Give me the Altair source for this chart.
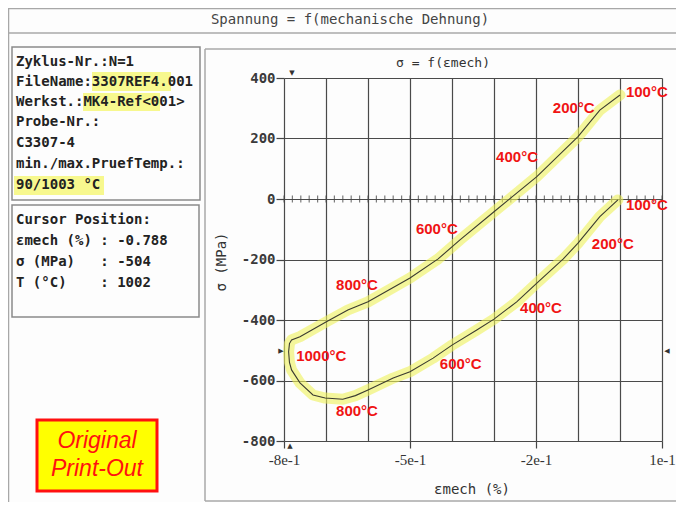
import altair as alt
import pandas as pd

# ---- hysteresis loop (mechanical strain in %, stress in MPa)
strain = [0.0, -0.048, -0.1, -0.198, -0.262, -0.3, -0.381, -0.433, -0.5, -0.6,
          -0.648, -0.698, -0.762, -0.782, -0.787, -0.789, -0.787, -0.782, -0.762,
          -0.731, -0.702, -0.66, -0.63, -0.6, -0.54, -0.5, -0.445, -0.4, -0.341,
          -0.3, -0.246, -0.198, -0.135, -0.1, -0.048, -0.005]
stress = [344, 294, 206, 74, 1, -42, -135, -198, -261, -340,
          -367, -405, -455, -466, -478, -505, -540, -565, -608,
          -648, -658, -662, -650, -631, -592, -571, -526, -483, -433,
          -397, -340, -278, -198, -146, -58, -3]

# ---- temperature annotations
temp_text = ["100°C", "200°C", "400°C", "100°C", "600°C", "200°C",
             "800°C", "400°C", "1000°C", "600°C", "800°C"]
temp_x = [0.014, -0.16, -0.295, 0.014, -0.486, -0.067,
          -0.676, -0.238, -0.771, -0.429, -0.676]
temp_y = [354, 301, 139, -20, -99, -149, -284, -360, -519, -546, -701]

# ---- axes
x_ticks = [-0.8, -0.7, -0.6, -0.5, -0.4, -0.3, -0.2, -0.1, 0.0, 0.1]
y_ticks = [-800, -600, -400, -200, 0, 200, 400]
minor_ticks = [-0.8, -0.78, -0.76, -0.74, -0.72, -0.7, -0.68, -0.66, -0.64, -0.62,
               -0.6, -0.58, -0.56, -0.54, -0.52, -0.5, -0.48, -0.46, -0.44, -0.42,
               -0.4, -0.38, -0.36, -0.34, -0.32, -0.3, -0.28, -0.26, -0.24, -0.22,
               -0.2, -0.18, -0.16, -0.14, -0.12, -0.1, -0.08, -0.06, -0.04, -0.02,
               0.0, 0.02, 0.04, 0.06, 0.08, 0.1]

# ---- side panel texts
info_lines = ["Zyklus-Nr.:N=1", "FileName:3307REF4.001", "Werkst.:MK4-Ref<001>",
              "Probe-Nr.:", "C3307-4", "min./max.PruefTemp.:", "90/1003 °C"]
cursor_lines = ["Cursor Position:", "εmech (%) : -0.788",
                "σ (MPa)   : -504", "T (°C)    : 1002"]

OX, OY = 284, 78          # page position of the plot origin
W, H = 378, 363
mono = "DejaVu Sans Mono"
NB = "\u00a0"

curve = pd.DataFrame({"strain": strain, "stress": stress,
                      "order": list(range(len(strain)))})
labels = pd.DataFrame({"strain": temp_x, "stress": temp_y, "t": temp_text})
minor = pd.DataFrame({"strain": minor_ticks})
one = pd.DataFrame({"k": [0]})

xs = alt.Scale(domain=[-0.8, 0.1], nice=False, zero=False)
ys = alt.Scale(domain=[-800, 400], nice=False, zero=False)

TEST = "round(datum.value*10+8) % 3 === 0"
x_axis = alt.Axis(values=x_ticks, title=None, grid=True, gridColor="#4a4a4a",
                  gridWidth=1.2, domain=False, tickColor="#444", tickSize=7,
                  tickWidth=1.2,
                  tickOpacity={"condition": {"test": TEST, "value": 1}, "value": 0},
                  labelExpr=TEST + " ? round(datum.value*10) + 'e-1' : ''",
                  labelFont="Liberation Serif", labelFontSize=15,
                  labelColor="#333", labelPadding=4, labelFlush=False,
                  labelOverlap=False)
y_axis = alt.Axis(values=y_ticks, title=None, grid=True, gridColor="#4a4a4a",
                  gridWidth=1.2, domain=False, tickColor="#444", tickSize=8,
                  tickWidth=1.2, labelExpr="'' + datum.value", labelFont=mono,
                  labelFontSize=14, labelFontWeight="bold", labelColor="#3a3a3a",
                  labelPadding=1, labelOverlap=False)

X = alt.X("strain:Q", scale=xs, axis=x_axis)
Y = alt.Y("stress:Q", scale=ys, axis=y_axis)


def box(x1, y1, x2, y2, **kw):
    return alt.Chart(one).mark_rect(**kw).encode(
        x=alt.value(x1 - OX), x2=alt.value(x2 - OX),
        y=alt.value(y1 - OY), y2=alt.value(y2 - OY))


def hline(x1, x2, y, color="#a8a8a8", w=1.5):
    return alt.Chart(one).mark_rule(color=color, strokeWidth=w).encode(
        x=alt.value(x1 - OX), x2=alt.value(x2 - OX), y=alt.value(y - OY))


def vline(x, y1, y2, color="#a8a8a8", w=1.5):
    return alt.Chart(one).mark_rule(color=color, strokeWidth=w).encode(
        x=alt.value(x - OX), y=alt.value(y1 - OY), y2=alt.value(y2 - OY))


def txt(x, y, s, **kw):
    opts = dict(align="left", baseline="middle", font=mono, fontSize=14,
                color="#222")
    opts.update(kw)
    return alt.Chart(one).mark_text(text=s, **opts).encode(
        x=alt.value(x - OX), y=alt.value(y - OY))


base = alt.Chart(curve).encode(x=X, y=Y, order="order:Q")
highlight = base.mark_line(color="#eef25a", opacity=0.6, strokeWidth=11,
                           strokeCap="round", strokeJoin="round")
line = base.mark_line(color="#3b3b30", strokeWidth=1.1)

ticks = alt.Chart(minor).transform_calculate(stress="0").mark_tick(
    orient="vertical", size=7, thickness=1.2, color="#444").encode(x=X, y=Y)

temps = alt.Chart(labels).mark_text(
    align="left", baseline="middle", font="Liberation Sans", fontWeight="bold",
    fontSize=15, color="#f01414").encode(x=X, y=Y, text="t:N")

layers = [ticks, highlight, line, temps]
# frames
layers += [hline(8, 676, 8.5), hline(8, 676, 33), vline(8.5, 8, 502),
           hline(205, 676, 49), vline(205, 49, 501), hline(205, 676, 501)]
layers += [box(12, 47, 200, 200, fill="#fdfdfd", stroke="#8a8a8a", strokeWidth=1.5),
           box(12, 205, 199, 317, fill="#fdfdfd", stroke="#8a8a8a", strokeWidth=1.5)]
# yellow marker highlights in the info box
layers += [box(92, 72, 171, 91, fill="#f6f77a", opacity=0.85),
           box(83, 93, 160, 111, fill="#f6f77a", opacity=0.85),
           box(14, 176, 104, 195, fill="#f6f77a", opacity=0.85)]
# texts
layers.append(txt(350, 20, "Spannung = f(mechanische Dehnung)", align="center",
                  color="#444"))
for i, s in enumerate(info_lines):
    layers.append(txt(16, [62, 82, 102, 122, 143, 164, 185][i],
                      s.replace(" ", NB), fontWeight="bold"))
for i, s in enumerate(cursor_lines):
    layers.append(txt(16, [220, 241, 262, 283][i], s.replace(" ", NB),
                      fontWeight="bold"))
layers.append(txt(443, 63, "σ = f(εmech)", align="center", color="#333",
                  fontSize=13))
layers.append(txt(222, 262, "σ (MPa)", align="center", angle=270, color="#333"))
layers.append(txt(472, 490, "εmech (%)", align="center", color="#333"))
# cursor markers
layers += [txt(292, 73, "▼", align="center", font="DejaVu Sans", fontSize=7,
               color="#333"),
           txt(290, 446, "▲", align="center", font="DejaVu Sans", fontSize=7,
               color="#333"),
           txt(281, 351, "▶", align="center", font="DejaVu Sans", fontSize=7,
               color="#333"),
           txt(667, 351, "◀", align="center", font="DejaVu Sans", fontSize=7,
               color="#333")]
# Original Print-Out stamp
layers += [box(37, 420, 157, 491, fill="#ffff00", stroke="#ff1010", strokeWidth=3),
           txt(97, 441, "Original", align="center", font="Liberation Sans",
               fontStyle="italic", fontSize=23, color="#ff1010"),
           txt(97, 469, "Print-Out", align="center", font="Liberation Sans",
               fontStyle="italic", fontSize=23, color="#ff1010")]

chart = alt.layer(*layers).properties(
    width=W, height=H,
    padding={"left": 276, "top": 70, "right": 14, "bottom": 61},
    autosize=alt.AutoSizeParams(type="none"),
    background="#fdfdfd",
).configure_view(stroke=None)

chart.save("out.html", embed_options={"renderer": "svg", "actions": False})
